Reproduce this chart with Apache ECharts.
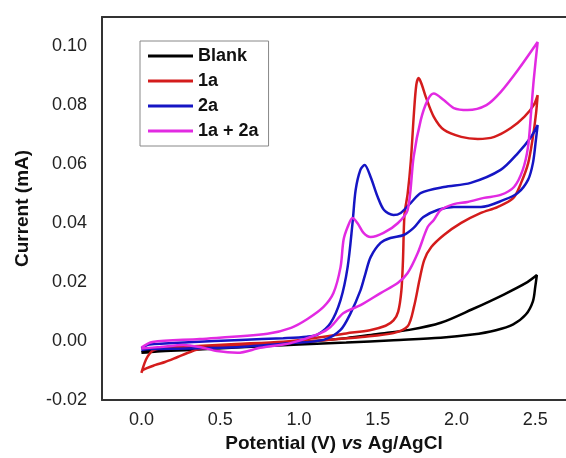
<!DOCTYPE html>
<html>
<head>
<meta charset="utf-8">
<title>CV</title>
<script src="https://cdn.jsdelivr.net/npm/echarts@6/dist/echarts.min.js"></script>
<style>
  html, body { margin: 0; padding: 0; background: #fff; }
  #chart { width: 566px; height: 458px; }
</style>
</head>
<body>
<div id="chart"></div>
<script>
// series names
var names = ['Blank', '1a', '2a', '1a + 2a'];

// [potential (V), current (mA)], forward sweep then reverse sweep
var blank = [
  [0, -0.0038], [0.05, -0.0031], [0.3, -0.0024], [0.6, -0.0016], [1.0, -0.0004], [1.3, 0.0010],
  [1.5, 0.0024], [1.7, 0.0038], [1.9, 0.0062], [2.1, 0.0108], [2.3, 0.0158], [2.45, 0.0200], [2.51, 0.0224],
  [2.5, 0.0185], [2.485, 0.0135], [2.44, 0.0090], [2.36, 0.0057], [2.25, 0.0037], [2.1, 0.0022],
  [1.9, 0.0011], [1.6, 0.0003], [1.3, -0.0005], [1.0, -0.0012], [0.6, -0.0022], [0.3, -0.0030],
  [0.1, -0.0035], [0, -0.0040]
];
var c1a = [
  [0, -0.0108], [0.02, -0.0075], [0.04, -0.0052], [0.07, -0.0033], [0.12, -0.0024], [0.3, -0.0018],
  [0.6, -0.0010], [0.9, -0.0002], [1.1, 0.0010], [1.3, 0.0026], [1.45, 0.0037], [1.55, 0.0052],
  [1.6, 0.0070], [1.63, 0.0100], [1.65, 0.0170], [1.66, 0.0270], [1.67, 0.0430], [1.69, 0.0500],
  [1.71, 0.0610], [1.73, 0.0775], [1.745, 0.0870], [1.76, 0.0893], [1.78, 0.0870], [1.805, 0.0829],
  [1.856, 0.0761], [1.92, 0.0717], [2.03, 0.0693], [2.135, 0.0686], [2.24, 0.0693], [2.345, 0.0723],
  [2.43, 0.0761], [2.49, 0.0801], [2.515, 0.0835],
  [2.505, 0.0774], [2.485, 0.0693], [2.455, 0.0604], [2.41, 0.0537], [2.36, 0.0485], [2.26, 0.0455],
  [2.155, 0.0435], [2.03, 0.0401], [1.92, 0.0360], [1.84, 0.0319], [1.795, 0.0275], [1.765, 0.0207],
  [1.73, 0.0116], [1.69, 0.0050], [1.6, 0.0027], [1.4, 0.0014], [1.18, 0.0004], [0.9, -0.0008],
  [0.6, -0.0018], [0.37, -0.0027], [0.31, -0.0037], [0.23, -0.0054], [0.15, -0.0071], [0.09, -0.0081],
  [0.01, -0.0098], [0, -0.0108]
];
var c2a = [
  [0, -0.0025], [0.05, -0.0012], [0.3, -0.0004], [0.63, 0.0004], [0.9, 0.0010], [1.05, 0.0015],
  [1.12, 0.0023], [1.2, 0.0061], [1.264, 0.0139], [1.309, 0.0251], [1.34, 0.0400], [1.36, 0.0513],
  [1.39, 0.0581], [1.417, 0.0598], [1.455, 0.0557], [1.5, 0.0489], [1.54, 0.0445], [1.6, 0.0428],
  [1.646, 0.0435], [1.71, 0.0469], [1.775, 0.0503], [1.92, 0.0523], [2.09, 0.0537], [2.28, 0.0581],
  [2.39, 0.0638], [2.473, 0.0693], [2.515, 0.0733],
  [2.504, 0.0683], [2.485, 0.0604], [2.454, 0.0547], [2.39, 0.0503], [2.3, 0.0479], [2.155, 0.0455],
  [1.983, 0.0455], [1.88, 0.0445], [1.79, 0.0421], [1.728, 0.0384], [1.665, 0.0360], [1.58, 0.0350],
  [1.518, 0.0333], [1.455, 0.0285], [1.423, 0.0231], [1.391, 0.0173], [1.328, 0.0095], [1.264, 0.0038],
  [1.156, 0.0004], [0.946, -0.0007], [0.628, -0.0020], [0.3, -0.0025], [0.05, -0.0027], [0, -0.0030]
];
var mix = [
  [0, -0.0022], [0.07, -0.0003], [0.37, 0.0007], [0.8, 0.0025], [0.95, 0.0045], [1.054, 0.0075],
  [1.156, 0.0116], [1.219, 0.0163], [1.264, 0.0251], [1.283, 0.0343], [1.309, 0.0387], [1.34, 0.0418],
  [1.372, 0.0400], [1.41, 0.0367], [1.455, 0.0353], [1.537, 0.0367], [1.627, 0.0400], [1.69, 0.0445],
  [1.728, 0.0625], [1.773, 0.0750], [1.817, 0.0818], [1.856, 0.0840], [1.919, 0.0818], [1.983, 0.0791],
  [2.07, 0.0784], [2.19, 0.0801], [2.28, 0.0845], [2.39, 0.0920], [2.515, 0.1015],
  [2.49, 0.0886], [2.473, 0.0774], [2.454, 0.0659], [2.42, 0.0580], [2.365, 0.0523], [2.28, 0.0496],
  [2.174, 0.0486], [2.07, 0.0472], [1.983, 0.0465], [1.90, 0.0445], [1.856, 0.0411], [1.817, 0.0387],
  [1.754, 0.0299], [1.69, 0.0231], [1.627, 0.0197], [1.518, 0.0163], [1.391, 0.0122], [1.283, 0.0095],
  [1.20, 0.0048], [1.137, 0.0027], [0.946, -0.0007], [0.755, -0.0023], [0.61, -0.0040], [0.48, -0.0034],
  [0.37, -0.0020], [0.265, -0.0013], [0.12, -0.0020], [0, -0.0025]
];

// tick labels
var xTicks = [0, 0.5, 1.0, 1.5, 2.0, 2.5];
var yTicks = [-0.02, 0, 0.02, 0.04, 0.06, 0.08, 0.10];

var colors = ['#000000', '#d41c1c', '#1515c4', '#e22ae2'];
var curves = [blank, c1a, c2a, mix];

var myChart = echarts.init(document.getElementById('chart'));

var font = 'Arial, "Liberation Sans", Helvetica, sans-serif';
var frameLine = { show: true, onZero: false, lineStyle: { color: '#333', width: 2 } };

var option = {
  backgroundColor: '#ffffff',
  animation: false,
  color: colors,
  // frame drawn by axis lines: left, bottom, top (open on the right)
  grid: {
    left: 102,
    top: 17,
    right: 0,
    bottom: 58
  },
  legend: {
    data: names,
    orient: 'vertical',
    left: 140,
    top: 41,
    padding: [5, 10, 5, 8],
    itemWidth: 45,
    itemHeight: 3,
    itemGap: 5,
    icon: 'rect',
    borderColor: '#888',
    borderWidth: 1,
    backgroundColor: '#fff',
    selectedMode: false,
    textStyle: {
      fontFamily: font,
      fontSize: 18,
      fontWeight: 'bold',
      color: '#111',
      lineHeight: 20
    }
  },
  xAxis: [{
    type: 'value',
    position: 'bottom',
    min: -0.25,
    max: 2.695,
    name: 'Potential (V) {i|vs} Ag/AgCl',
    nameLocation: 'middle',
    nameGap: 31,
    nameTextStyle: {
      fontFamily: font,
      fontSize: 19,
      fontWeight: 'bold',
      color: '#111',
      rich: {
        i: { fontFamily: font, fontSize: 19, fontWeight: 'bold', fontStyle: 'italic', color: '#111' }
      }
    },
    axisLine: frameLine,
    axisTick: { show: false },
    splitLine: { show: false },
    axisLabel: {
      customValues: xTicks,
      margin: 11,
      fontFamily: font,
      fontSize: 18,
      color: '#222',
      formatter: function (v) { return v.toFixed(1); }
    }
  }, {
    type: 'value',
    position: 'top',
    min: -0.25,
    max: 2.695,
    axisLine: frameLine,
    axisTick: { show: false },
    axisLabel: { show: false },
    splitLine: { show: false }
  }],
  yAxis: {
    type: 'value',
    min: -0.02,
    max: 0.11,
    name: 'Current (mA)',
    nameLocation: 'middle',
    nameGap: 70,
    nameTextStyle: {
      fontFamily: font,
      fontSize: 19,
      fontWeight: 'bold',
      color: '#111'
    },
    axisLine: frameLine,
    axisTick: { show: false },
    splitLine: { show: false },
    axisLabel: {
      customValues: yTicks,
      margin: 15,
      fontFamily: font,
      fontSize: 18,
      color: '#222',
      formatter: function (v) { return v.toFixed(2); }
    }
  },
  series: names.map(function (n, i) {
    return {
      name: n,
      type: 'line',
      xAxisIndex: 0,
      data: curves[i],
      symbol: 'none',
      showSymbol: false,
      smooth: 0.3,
      lineStyle: { width: 2.5, color: colors[i] },
      itemStyle: { color: colors[i] }
    };
  })
};

myChart.setOption(option);
</script>
</body>
</html>
